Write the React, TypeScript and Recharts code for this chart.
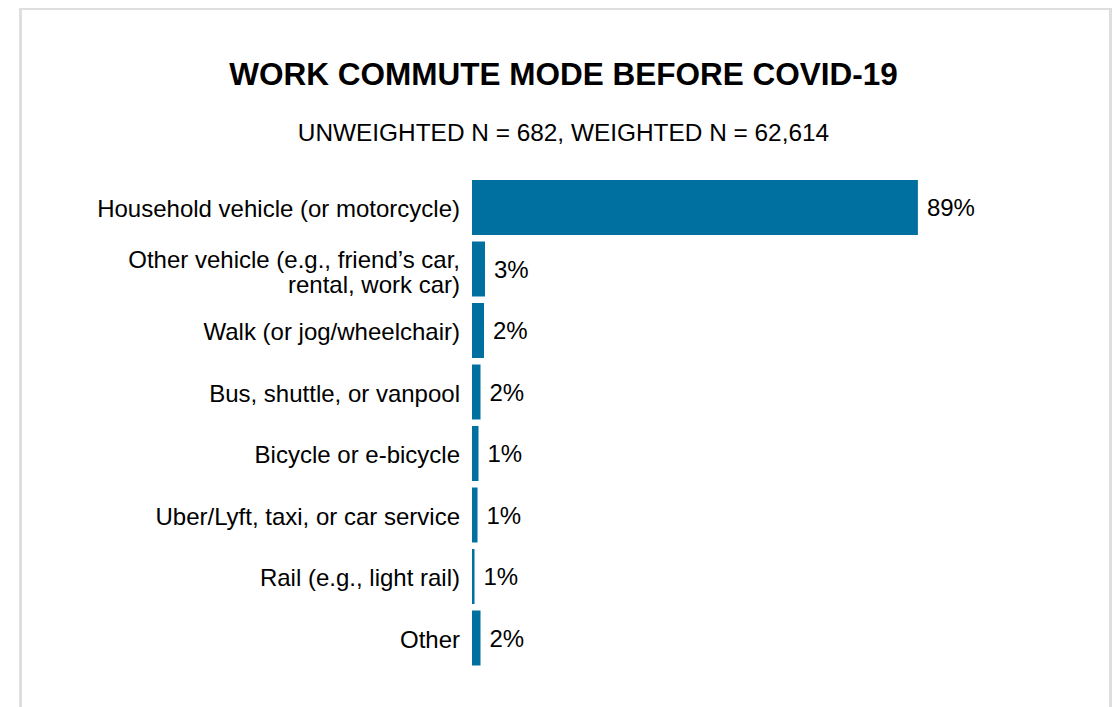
import React from 'react';
import { BarChart, Bar, XAxis, YAxis, LabelList } from 'recharts';

const modes = [
  'Household vehicle (or motorcycle)',
  'Other vehicle (e.g., friend’s car,\nrental, work car)',
  'Walk (or jog/wheelchair)',
  'Bus, shuttle, or vanpool',
  'Bicycle or e-bicycle',
  'Uber/Lyft, taxi, or car service',
  'Rail (e.g., light rail)',
  'Other',
];
const shares = [89, 2.6, 2.4, 1.7, 1.3, 1.1, 0.5, 1.7];
const shareLabels = ['89%', '3%', '2%', '2%', '1%', '1%', '1%', '2%'];

const data = modes.map((name, i) => ({ name, value: shares[i], label: shareLabels[i] }));

const FONT = '"Liberation Sans", Arial, sans-serif';
const BLUE = '#0070a1';

const ModeTick = (props: any) => {
  const { x, y, payload } = props;
  const lines = String(payload.value).split('\n');
  const lineH = 25;
  // two-line labels sit a bit high, like the source
  const start = lines.length > 1 ? y - 10 : y + 1;
  return (
    <text x={x} y={start} textAnchor="end" fontFamily={FONT} fontSize={24} fill="#000">
      {lines.map((ln, i) => (
        <tspan key={i} x={x} y={start + i * lineH} dy="0.36em">
          {ln}
        </tspan>
      ))}
    </text>
  );
};

export default function App() {
  return (
    <div style={{ position: 'relative', width: 1104, height: 699, fontFamily: FONT, overflow: 'hidden' }}>
      {/* light grey frame, runs off the bottom like the source */}
      <div
        style={{
          position: 'absolute',
          left: 11,
          top: -1,
          width: 1087,
          height: 760,
          border: '3px solid #dedede',
        }}
      />
      <div
        style={{
          position: 'absolute',
          left: 0,
          width: 1111,
          top: 48,
          textAlign: 'center',
          fontSize: 31.5,
          fontWeight: 'bold',
          color: '#000',
        }}
      >
        WORK COMMUTE MODE BEFORE COVID-19
      </div>
      <div
        style={{
          position: 'absolute',
          left: 0,
          width: 1111,
          top: 111,
          textAlign: 'center',
          fontSize: 24.4,
          color: '#000',
        }}
      >
        UNWEIGHTED N = 682, WEIGHTED N = 62,614
      </div>
      <div style={{ position: 'absolute', left: 0, top: 0 }}>
        <BarChart
          width={1104}
          height={699}
          data={data}
          layout="vertical"
          margin={{ top: 169, right: 139, bottom: 38, left: 0 }}
        >
          <XAxis type="number" domain={[0, 100]} hide />
          <YAxis
            type="category"
            dataKey="name"
            width={464}
            axisLine={false}
            tickLine={false}
            tickSize={0}
            tickMargin={12}
            interval={0}
            tick={<ModeTick />}
          />
          <Bar dataKey="value" fill={BLUE} barSize={55} isAnimationActive={false}>
            <LabelList
              dataKey="label"
              position="right"
              offset={9}
              fontFamily={FONT}
              fontSize={24}
              fill="#000"
            />
          </Bar>
        </BarChart>
      </div>
    </div>
  );
}
